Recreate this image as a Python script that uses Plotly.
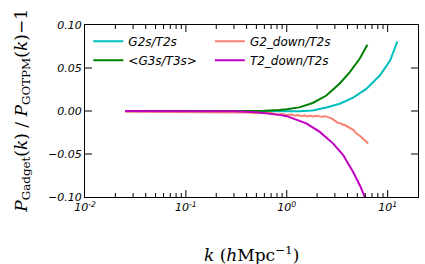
import plotly.graph_objects as go

# ---- data ----
k_g2s = [0.025, 0.05, 0.1, 0.2, 0.4, 0.7, 1.0, 1.33, 1.81, 2.47, 3.35, 4.55, 6.19, 8.4, 10.6, 12.5]
r_g2s = [0.0, 0.0, 0.0, 0.0, 0.0, 0.0, -0.0003, -0.0004, 0.0006, 0.004, 0.0085, 0.0155, 0.026, 0.0415, 0.059, 0.081]

k_g3s = [0.025, 0.05, 0.1, 0.2, 0.4, 0.6, 0.84, 1.0, 1.33, 1.81, 2.47, 3.35, 4.2, 5.3, 6.3]
r_g3s = [0.0, 0.0, 0.0, 0.0, 0.0, 0.0003, 0.0012, 0.002, 0.0042, 0.0093, 0.018, 0.032, 0.045, 0.061, 0.077]

k_g2d = [0.025, 0.05, 0.1, 0.2, 0.3, 0.4, 0.5, 0.6, 0.7, 0.8, 0.9, 1.0, 1.1, 1.2, 1.3, 1.4,
         1.5, 1.6, 1.7, 1.8, 2.0, 2.2, 2.4, 2.6, 2.8, 3.0, 3.2, 3.4, 3.6, 3.8, 4.0, 4.2,
         4.4, 4.6, 4.8, 5.0, 5.2, 5.4, 5.6, 5.8, 6.0, 6.2, 6.4]
r_g2d = [-0.0010, -0.0010, -0.0011, -0.0012, -0.0013, -0.0016, -0.0022, -0.0027, -0.0024, -0.0040,
         -0.0034, -0.0046, -0.0040, -0.0055, -0.0046, -0.0060, -0.0050, -0.0062, -0.0052, -0.0064,
         -0.0056, -0.0068, -0.0060, -0.0074, -0.0088, -0.0112, -0.0138, -0.0142, -0.0160, -0.0166,
         -0.0182, -0.0188, -0.0210, -0.0222, -0.0250, -0.0262, -0.0282, -0.0296, -0.0312, -0.0330,
         -0.0338, -0.0360, -0.0378]

k_t2d = [0.025, 0.05, 0.1, 0.2, 0.3, 0.5, 0.7, 0.84, 1.0, 1.14, 1.56, 2.11, 2.87, 3.61, 4.55, 5.31, 5.96, 6.2]
r_t2d = [0.0, 0.0, 0.0, 0.0, -0.0003, -0.0015, -0.003, -0.0045, -0.006, -0.0085, -0.0143, -0.024, -0.0376, -0.051, -0.071, -0.0866, -0.100, -0.105]

x_tickvals = [0.01, 0.1, 1, 10]
x_ticktext = ["<i>10<sup>-2</sup></i>", "<i>10<sup>-1</sup></i>", "<i>10<sup>0</sup></i>", "<i>10<sup>1</sup></i>"]
x_minorvals = [0.02, 0.03, 0.04, 0.05, 0.06, 0.07, 0.08, 0.09,
               0.2, 0.3, 0.4, 0.5, 0.6, 0.7, 0.8, 0.9,
               2, 3, 4, 5, 6, 7, 8, 9]
y_tickvals = [-0.1, -0.05, 0, 0.05, 0.1]
y_ticktext = ["<i>−0.10</i>", "<i>−0.05</i>", "<i>0.00</i>", "<i>0.05</i>", "<i>0.10</i>"]

series = [
    ("<i>G2s/T2s</i>", k_g2s, r_g2s, "rgb(0,191,191)", "legend"),
    ("<i>&lt;G3s/T3s&gt;</i>", k_g3s, r_g3s, "rgb(0,128,0)", "legend"),
    ("<i>G2_down/T2s</i>", k_g2d, r_g2d, "rgb(250,128,114)", "legend2"),
    ("<i>T2_down/T2s</i>", k_t2d, r_t2d, "rgb(191,0,191)", "legend2"),
]

W, H = 425, 264
ML, MR, MT, MB = 85, 7, 25, 67
PW, PH = W - ML - MR, H - MT - MB

fig = go.Figure()
for name, kx, ry, col, leg in series:
    fig.add_trace(go.Scatter(x=kx, y=ry, mode="lines", name=name, legend=leg,
                             line=dict(color=col, width=2)))

tickfont = dict(family="DejaVu Sans", size=11, color="black")

fig.update_xaxes(type="log", range=[-2, 1.301], tickmode="array",
                 tickvals=x_tickvals, ticktext=x_ticktext,
                 showline=True, linecolor="black", linewidth=1, mirror=True,
                 ticks="", showgrid=False, zeroline=False, tickfont=tickfont)
fig.update_yaxes(range=[-0.1, 0.1], tickmode="array", tickvals=y_tickvals, ticktext=y_ticktext,
                 showline=True, linecolor="black", linewidth=1, mirror=True,
                 ticks="", showgrid=False, zeroline=False, tickfont=tickfont)

# inside tick marks (axis decoration, placed at the tick values)
tick_line = dict(color="black", width=1)
shapes = []
for vals, length in ((x_tickvals, 7), (x_minorvals, 4)):
    f = length / PH
    for v in vals:
        if v <= 0.01:
            continue
        shapes.append(dict(type="line", xref="x", yref="paper", x0=v, x1=v, y0=0, y1=f,
                           line=tick_line))
        shapes.append(dict(type="line", xref="x", yref="paper", x0=v, x1=v, y0=1, y1=1 - f,
                           line=tick_line))
fy = 7 / PW
for v in y_tickvals[1:-1]:
    shapes.append(dict(type="line", xref="paper", yref="y", x0=0, x1=fy, y0=v, y1=v,
                       line=tick_line))
    shapes.append(dict(type="line", xref="paper", yref="y", x0=1, x1=1 - fy, y0=v, y1=v,
                       line=tick_line))

# axis titles as annotations
annotations = [
    dict(text="<i>k</i> (<i>h</i>Mpc<sup>−1</sup>)", xref="paper", yref="paper",
         x=0.5, y=-0.255, xanchor="center", yanchor="top", showarrow=False,
         font=dict(family="DejaVu Serif", size=17, color="black")),
    dict(text="<i>P</i><sub>Gadget</sub>(<i>k</i>) / <i>P</i><sub>GOTPM</sub>(<i>k</i>)−1",
         xref="paper", yref="paper", x=-0.19, y=0.5, xanchor="center", yanchor="middle",
         textangle=-90, showarrow=False,
         font=dict(family="DejaVu Serif", size=17, color="black")),
]

legfont = dict(family="DejaVu Sans", size=12, color="black")
fig.update_layout(
    width=W, height=H,
    margin=dict(l=ML, r=MR, t=MT, b=MB),
    paper_bgcolor="white", plot_bgcolor="white",
    showlegend=True,
    shapes=shapes,
    annotations=annotations,
    legend=dict(x=0.01, y=0.99, xanchor="left", yanchor="top", bgcolor="rgba(0,0,0,0)",
                font=legfont),
    legend2=dict(x=0.375, y=0.99, xanchor="left", yanchor="top", bgcolor="rgba(0,0,0,0)",
                 font=legfont),
)

fig.write_html("out.html", config={"displayModeBar": False},
               post_script="document.body.style.margin='0';")
